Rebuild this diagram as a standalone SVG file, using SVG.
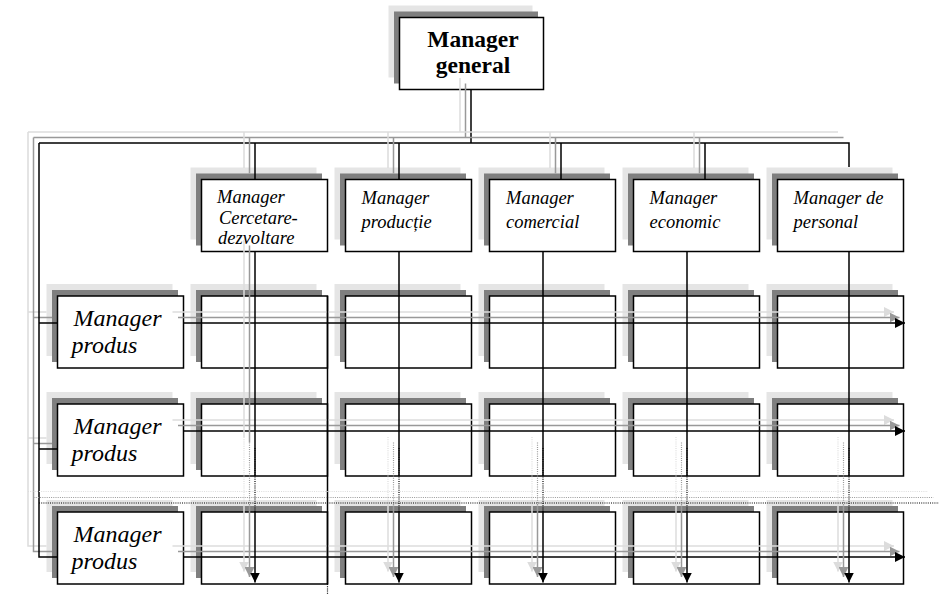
<svg xmlns="http://www.w3.org/2000/svg" width="941" height="594" viewBox="0 0 941 594">
<style>
.s1{fill:#e5e5e5}
.s2{fill:#7f7f7f}
.box{fill:#fff;stroke:#000;stroke-width:1.5}
.lk{stroke:#000;stroke-width:1.5;fill:none}
.lg{stroke:#999;stroke-width:1.5;fill:none}
.ll{stroke:#dcdcdc;stroke-width:1.5;fill:none}
.dt{stroke-dasharray:1 1.2;stroke-width:1.2}
.gm{font-family:"Liberation Serif",serif;font-weight:bold;font-size:23.5px;text-anchor:middle}
.dp{font-family:"Liberation Serif",serif;font-style:italic;font-size:18.5px}
.pm{font-family:"Liberation Serif",serif;font-style:italic;font-size:24px}
</style>
<defs>
<marker id="ak" markerUnits="userSpaceOnUse" markerWidth="11" markerHeight="10" refX="10" refY="5" orient="auto"><path d="M0,0 L10,5 L0,10 z" fill="#000"/></marker>
<marker id="ag" markerUnits="userSpaceOnUse" markerWidth="11" markerHeight="10" refX="10" refY="5" orient="auto"><path d="M0,0 L10,5 L0,10 z" fill="#999"/></marker>
<marker id="al" markerUnits="userSpaceOnUse" markerWidth="11" markerHeight="10" refX="10" refY="5" orient="auto"><path d="M0,0 L10,5 L0,10 z" fill="#dcdcdc"/></marker>
</defs>
<rect width="941" height="594" fill="#fff"/>

<g id="manager-general">
<rect class="s1" x="388.5" y="5.5" width="144" height="72"/>
<rect class="s2" x="394" y="11.5" width="144" height="72"/>
<rect class="box" x="399.5" y="17.5" width="144" height="72"/>
<text class="gm" x="473" y="47">Manager</text>
<text class="gm" x="473" y="73">general</text>
</g>

<g id="manager-cercetare">
<rect class="s1" x="190.5" y="167.5" width="126" height="72"/>
<rect class="s2" x="196" y="173.5" width="126" height="72"/>
<rect class="box" x="201.5" y="179.5" width="126" height="72"/>
<text class="dp" x="217" y="203">Manager</text>
<text class="dp" x="219" y="223.5">Cercetare-</text>
<text class="dp" x="218" y="243.5">dezvoltare</text>
</g>
<g id="manager-productie">
<rect class="s1" x="334.5" y="167.5" width="126" height="72"/>
<rect class="s2" x="340" y="173.5" width="126" height="72"/>
<rect class="box" x="345.5" y="179.5" width="126" height="72"/>
<text class="dp" x="361.5" y="203.5">Manager</text>
<text class="dp" x="361.5" y="228">producție</text>
</g>
<g id="manager-comercial">
<rect class="s1" x="478.5" y="167.5" width="126" height="72"/>
<rect class="s2" x="484" y="173.5" width="126" height="72"/>
<rect class="box" x="489.5" y="179.5" width="126" height="72"/>
<text class="dp" x="506" y="203.5">Manager</text>
<text class="dp" x="506" y="228">comercial</text>
</g>
<g id="manager-economic">
<rect class="s1" x="622.5" y="167.5" width="126" height="72"/>
<rect class="s2" x="628" y="173.5" width="126" height="72"/>
<rect class="box" x="633.5" y="179.5" width="126" height="72"/>
<text class="dp" x="649.5" y="203.5">Manager</text>
<text class="dp" x="649.5" y="228">economic</text>
</g>
<g id="manager-personal">
<rect class="s1" x="766.5" y="167.5" width="126" height="72"/>
<rect class="s2" x="772" y="173.5" width="126" height="72"/>
<rect class="box" x="777.5" y="179.5" width="126" height="72"/>
<text class="dp" x="793.5" y="203.5">Manager de</text>
<text class="dp" x="793.5" y="228">personal</text>
</g>

<g id="manager-produs-1">
<rect class="s1" x="46.5" y="284" width="126" height="72"/>
<rect class="s2" x="52" y="290" width="126" height="72"/>
<rect class="box" x="57.5" y="296" width="126" height="72"/>
<text class="pm" x="73.5" y="325.5">Manager</text>
<text class="pm" x="71.5" y="352.5">produs</text>
</g>
<g id="manager-produs-2">
<rect class="s1" x="46.5" y="392" width="126" height="72"/>
<rect class="s2" x="52" y="398" width="126" height="72"/>
<rect class="box" x="57.5" y="404" width="126" height="72"/>
<text class="pm" x="73.5" y="433.5">Manager</text>
<text class="pm" x="71.5" y="460.5">produs</text>
</g>
<g id="manager-produs-3">
<rect class="s1" x="46.5" y="500" width="126" height="72"/>
<rect class="s2" x="52" y="506" width="126" height="72"/>
<rect class="box" x="57.5" y="512" width="126" height="72"/>
<text class="pm" x="73.5" y="541.5">Manager</text>
<text class="pm" x="71.5" y="568.5">produs</text>
</g>

<g id="cells">
<g id="cell-r1c1"><rect class="s1" x="190.5" y="284" width="126" height="72"/><rect class="s2" x="196" y="290" width="126" height="72"/><rect class="box" x="201.5" y="296" width="126" height="72"/></g>
<g id="cell-r1c2"><rect class="s1" x="334.5" y="284" width="126" height="72"/><rect class="s2" x="340" y="290" width="126" height="72"/><rect class="box" x="345.5" y="296" width="126" height="72"/></g>
<g id="cell-r1c3"><rect class="s1" x="478.5" y="284" width="126" height="72"/><rect class="s2" x="484" y="290" width="126" height="72"/><rect class="box" x="489.5" y="296" width="126" height="72"/></g>
<g id="cell-r1c4"><rect class="s1" x="622.5" y="284" width="126" height="72"/><rect class="s2" x="628" y="290" width="126" height="72"/><rect class="box" x="633.5" y="296" width="126" height="72"/></g>
<g id="cell-r1c5"><rect class="s1" x="766.5" y="284" width="126" height="72"/><rect class="s2" x="772" y="290" width="126" height="72"/><rect class="box" x="777.5" y="296" width="126" height="72"/></g>
<g id="cell-r2c1"><rect class="s1" x="190.5" y="392" width="126" height="72"/><rect class="s2" x="196" y="398" width="126" height="72"/><rect class="box" x="201.5" y="404" width="126" height="72"/></g>
<g id="cell-r2c2"><rect class="s1" x="334.5" y="392" width="126" height="72"/><rect class="s2" x="340" y="398" width="126" height="72"/><rect class="box" x="345.5" y="404" width="126" height="72"/></g>
<g id="cell-r2c3"><rect class="s1" x="478.5" y="392" width="126" height="72"/><rect class="s2" x="484" y="398" width="126" height="72"/><rect class="box" x="489.5" y="404" width="126" height="72"/></g>
<g id="cell-r2c4"><rect class="s1" x="622.5" y="392" width="126" height="72"/><rect class="s2" x="628" y="398" width="126" height="72"/><rect class="box" x="633.5" y="404" width="126" height="72"/></g>
<g id="cell-r2c5"><rect class="s1" x="766.5" y="392" width="126" height="72"/><rect class="s2" x="772" y="398" width="126" height="72"/><rect class="box" x="777.5" y="404" width="126" height="72"/></g>
<g id="cell-r3c1"><rect class="s1" x="190.5" y="500" width="126" height="72"/><rect class="s2" x="196" y="506" width="126" height="72"/><rect class="box" x="201.5" y="512" width="126" height="72"/></g>
<g id="cell-r3c2"><rect class="s1" x="334.5" y="500" width="126" height="72"/><rect class="s2" x="340" y="506" width="126" height="72"/><rect class="box" x="345.5" y="512" width="126" height="72"/></g>
<g id="cell-r3c3"><rect class="s1" x="478.5" y="500" width="126" height="72"/><rect class="s2" x="484" y="506" width="126" height="72"/><rect class="box" x="489.5" y="512" width="126" height="72"/></g>
<g id="cell-r3c4"><rect class="s1" x="622.5" y="500" width="126" height="72"/><rect class="s2" x="628" y="506" width="126" height="72"/><rect class="box" x="633.5" y="512" width="126" height="72"/></g>
<g id="cell-r3c5"><rect class="s1" x="766.5" y="500" width="126" height="72"/><rect class="s2" x="772" y="506" width="126" height="72"/><rect class="box" x="777.5" y="512" width="126" height="72"/></g>
</g>

<g id="connectors">
<!-- from general manager -->
<path class="ll" d="M460,78 V132"/>
<path class="lg" d="M465.5,83.5 V137.5"/>
<path class="lk" d="M471,89.5 V143"/>
<!-- top bus -->
<path class="ll" d="M28,132 H838"/>
<path class="lg" d="M33.5,137.5 H843.5"/>
<path class="lk" d="M39,143 H849 V167"/>
<!-- drops to functional managers -->
<path class="ll" d="M244,132 V168 M388,132 V168 M550,132 V168 M694,132 V168"/>
<path class="lg" d="M249.5,137.5 V173.5 M393.5,137.5 V173.5 M555.5,137.5 V173.5 M699.5,137.5 V173.5"/>
<path class="lk" d="M255,143 V179.5 M399,143 V179.5 M561,143 V179.5 M705,143 V179.5"/>
<!-- left trunk -->
<path class="ll" d="M28,132 V546 H46.5 M28,312 H46.5 M28,438 H46.5"/>
<path class="lg" d="M33.5,137.5 V551.5 H52 M33.5,317.5 H52 M33.5,443.5 H52"/>
<path class="lk" d="M39,143 V557 H57.5 M39,323 H57.5 M39,449 H57.5"/>
<!-- row arrows -->
<path class="ll" d="M172.5,312 H894" marker-end="url(#al)"/>
<path class="lg" d="M178,317.5 H899.5" marker-end="url(#ag)"/>
<path class="lk" d="M183.5,323 H905" marker-end="url(#ak)"/>
<path class="ll" d="M172.5,420 H894" marker-end="url(#al)"/>
<path class="lg" d="M178,425.5 H899.5" marker-end="url(#ag)"/>
<path class="lk" d="M183.5,431 H905" marker-end="url(#ak)"/>
<path class="ll" d="M172.5,546 H894" marker-end="url(#al)"/>
<path class="lg" d="M178,551.5 H899.5" marker-end="url(#ag)"/>
<path class="lk" d="M183.5,557 H905" marker-end="url(#ak)"/>
<!-- column lines -->
<path class="ll" d="M244,240 V437"/>
<path class="lg" d="M249.5,245.5 V442.5"/>
<path class="lk" d="M255,251.5 V476 M399,251.5 V476 M543,251.5 V476 M687,251.5 V476 M849,251.5 V476"/>
<path class="ll dt" d="M244,437 V500 M388,437 V500 M532,437 V500 M676,437 V500 M838,437 V500"/>
<path class="lg dt" d="M249.5,442.5 V505.5 M393.5,442.5 V505.5 M537.5,442.5 V505.5 M681.5,442.5 V505.5 M843.5,442.5 V505.5"/>
<path class="lk dt" d="M255,448 V511 M399,448 V511 M543,448 V511 M687,448 V511 M849,448 V511"/>
<path class="ll" d="M244,500 V571.5" marker-end="url(#al)"/>
<path class="lg" d="M249.5,505.5 V577" marker-end="url(#ag)"/>
<path class="lk" d="M255,511 V582.5" marker-end="url(#ak)"/>
<path class="ll" d="M388,500 V571.5" marker-end="url(#al)"/>
<path class="lg" d="M393.5,505.5 V577" marker-end="url(#ag)"/>
<path class="lk" d="M399,511 V582.5" marker-end="url(#ak)"/>
<path class="ll" d="M532,500 V571.5" marker-end="url(#al)"/>
<path class="lg" d="M537.5,505.5 V577" marker-end="url(#ag)"/>
<path class="lk" d="M543,511 V582.5" marker-end="url(#ak)"/>
<path class="ll" d="M676,500 V571.5" marker-end="url(#al)"/>
<path class="lg" d="M681.5,505.5 V577" marker-end="url(#ag)"/>
<path class="lk" d="M687,511 V582.5" marker-end="url(#ak)"/>
<path class="ll" d="M838,500 V571.5" marker-end="url(#al)"/>
<path class="lg" d="M843.5,505.5 V577" marker-end="url(#ag)"/>
<path class="lk" d="M849,511 V582.5" marker-end="url(#ak)"/>
<!-- column 1 right edge extension -->
<path class="lk" d="M327.5,296 V584"/>
<path class="lk dt" d="M327.5,584 V594"/>
<!-- dotted continuation lines -->
<path class="ll dt" d="M28,491.5 H928"/>
<path class="lg dt" d="M33.5,497.5 H933.5"/>
<path class="lk dt" d="M39,503 H939"/>
</g>
</svg>
